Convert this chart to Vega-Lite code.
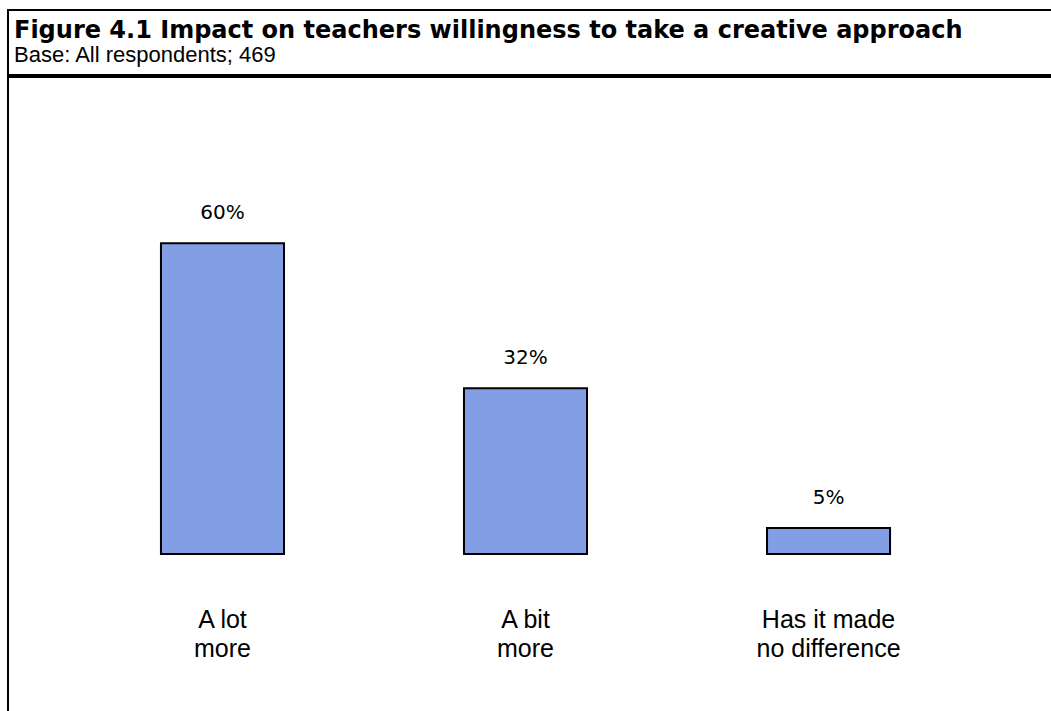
{
  "$schema": "https://vega.github.io/schema/vega-lite/v6.json",
  "padding": {"left": 7, "top": 9, "right": 0, "bottom": 0},
  "background": "white",
  "spacing": 0,
  "config": {
    "view": {"stroke": "black", "strokeWidth": 2},
    "concat": {"spacing": 0}
  },
  "vconcat": [
    {
      "width": 1100,
      "height": 65,
      "view": {"stroke": null},
      "title": {
        "text": "Figure 4.1 Impact on teachers willingness to take a creative approach",
        "subtitle": "Base: All respondents; 469",
        "anchor": "start",
        "orient": "top",
        "frame": "group",
        "offset": -57,
        "dx": 6,
        "font": "DejaVu Sans",
        "fontSize": 24,
        "fontWeight": "bold",
        "color": "black",
        "subtitleFont": "Liberation Sans",
        "subtitleFontSize": 22,
        "subtitleColor": "black",
        "subtitlePadding": 2
      },
      "data": {"values": [{"box": "header"}]},
      "mark": {"type": "rect", "fill": "white", "fillOpacity": 0, "stroke": "black", "strokeWidth": 2},
      "encoding": {}
    },
    {
      "width": 1100,
      "height": 700,
      "data": {
        "values": [
          {"category": "A lot more", "label": "A lot\nmore", "pct": 60},
          {"category": "A bit more", "label": "A bit\nmore", "pct": 32},
          {"category": "Has it made no difference", "label": "Has it made\nno difference", "pct": 5}
        ]
      },
      "encoding": {
        "x": {
          "field": "category",
          "type": "nominal",
          "sort": null,
          "axis": null,
          "scale": {"paddingInner": 0.594, "paddingOuter": 0.612, "align": 0.4124}
        }
      },
      "layer": [
        {
          "mark": {"type": "bar", "fill": "#829FE6", "stroke": "black", "strokeWidth": 2},
          "encoding": {
            "y": {
              "field": "pct",
              "type": "quantitative",
              "axis": null,
              "scale": {"domain": [-43.05, 92.08], "nice": false, "zero": false}
            },
            "y2": {"datum": 0}
          }
        },
        {
          "transform": [{"calculate": "datum.pct + '%'", "as": "pctLabel"}],
          "mark": {"type": "text", "font": "DejaVu Sans", "fontSize": 20, "color": "black", "baseline": "alphabetic", "dy": -24},
          "encoding": {
            "y": {"field": "pct", "type": "quantitative"},
            "text": {"field": "pctLabel", "type": "nominal"}
          }
        },
        {
          "mark": {"type": "text", "font": "Liberation Sans", "fontSize": 25, "color": "black", "baseline": "top", "lineBreak": "\n", "lineHeight": 29},
          "encoding": {
            "y": {"datum": -10.4},
            "text": {"field": "label", "type": "nominal"}
          }
        }
      ]
    }
  ]
}
